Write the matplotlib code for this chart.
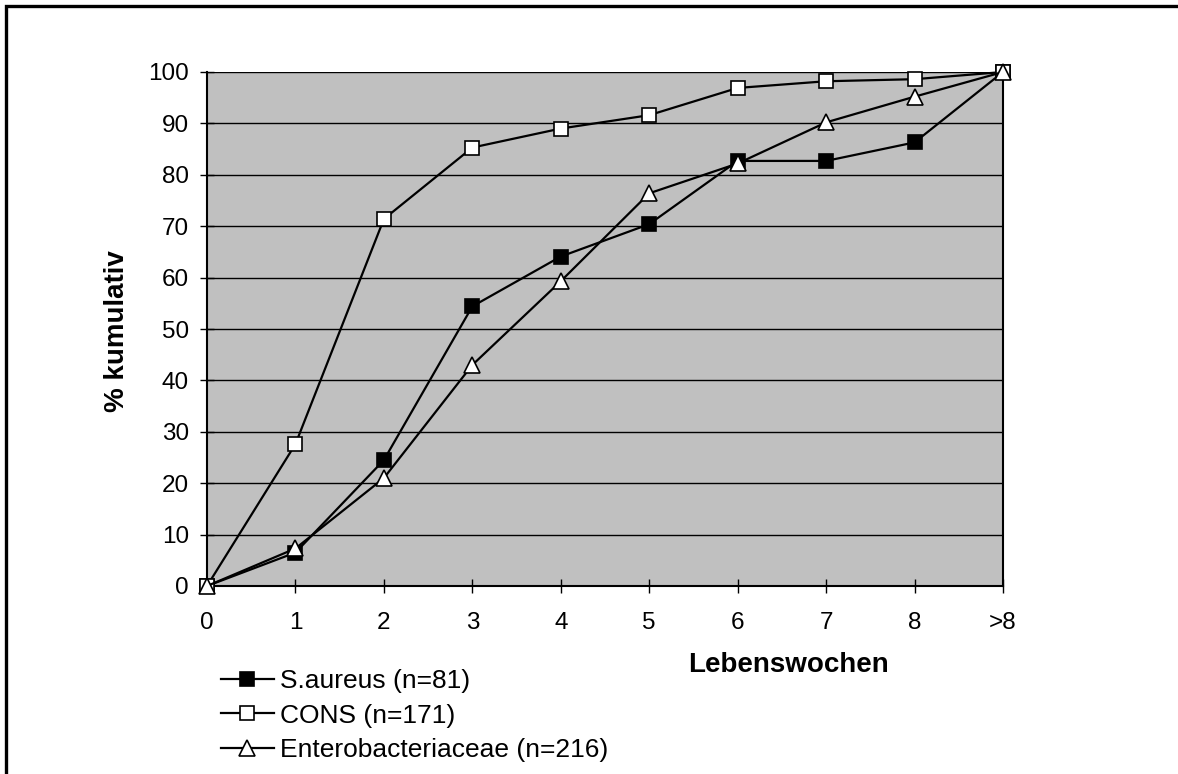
import matplotlib
matplotlib.use('Agg')
import matplotlib.pyplot as plt
from matplotlib.patches import Rectangle

plt.rcParams['font.family'] = ['Liberation Sans', 'DejaVu Sans']

weeks = ['0', '1', '2', '3', '4', '5', '6', '7', '8', '>8']
saureus = [0, 6.5, 24.5, 54.4, 64.1, 70.4, 82.7, 82.7, 86.3, 100]
cons = [0, 27.6, 71.4, 85.3, 89.0, 91.6, 96.9, 98.2, 98.6, 100]
entero = [0, 7.3, 21.0, 43.0, 59.3, 76.4, 82.2, 90.2, 95.2, 100]
labels = ['S.aureus (n=81)', 'CONS (n=171)', 'Enterobacteriaceae (n=216)']

fig = plt.figure(figsize=(11.78, 7.74), dpi=100)
ax = fig.add_axes([207/1178, 1-586/774, (1003-207)/1178, (586-72)/774])
ax.set_facecolor('#c0c0c0')

x = list(range(len(weeks)))
l1, = ax.plot(x, saureus, color='black', lw=1.6, marker='s', ms=10.5,
              mfc='black', mec='black', mew=1.2, clip_on=False, zorder=3)
l2, = ax.plot(x, cons, color='black', lw=1.6, marker='s', ms=10.5,
              mfc='white', mec='black', mew=1.2, clip_on=False, zorder=4)
l3, = ax.plot(x, entero, color='black', lw=1.6, marker='^', ms=11.5,
              mfc='white', mec='black', mew=1.2, clip_on=False, zorder=5)

ax.set_xlim(0, len(weeks)-1)
ax.set_ylim(0, 100)
ax.set_xticks(x)
ax.set_xticklabels(weeks)
ax.set_yticks(range(0, 101, 10))
ax.yaxis.grid(True, color='black', lw=1.0)
ax.set_axisbelow(True)
ax.tick_params(direction='inout', length=10, width=1, labelsize=17.5)
ax.tick_params(axis='x', pad=14)
ax.tick_params(axis='y', pad=8)
for s in ['left', 'bottom', 'right']:
    ax.spines[s].set_linewidth(1.5)
ax.spines['top'].set_visible(False)

fig.text(117/1178, 1-331/774, '% kumulativ', rotation=90, ha='center', va='center',
         fontsize=20, fontweight='bold')
fig.text(788/1178, 1-665/774, 'Lebenswochen', ha='center', va='center',
         fontsize=20, fontweight='bold')

fig.legend([l1, l2, l3], labels, loc='upper left', bbox_to_anchor=(221/1178, 1-669/774),
           frameon=False, fontsize=19, handlelength=2.0, handletextpad=0.25,
           labelspacing=0.40, borderpad=0, borderaxespad=0, markerscale=1.0)

fig.patches.append(Rectangle((6/1178, -0.1), 1.2, 1-6/774+0.1, transform=fig.transFigure,
                             fill=False, ec='black', lw=2.4, clip_on=False))

fig.savefig('out.png', dpi=100)
